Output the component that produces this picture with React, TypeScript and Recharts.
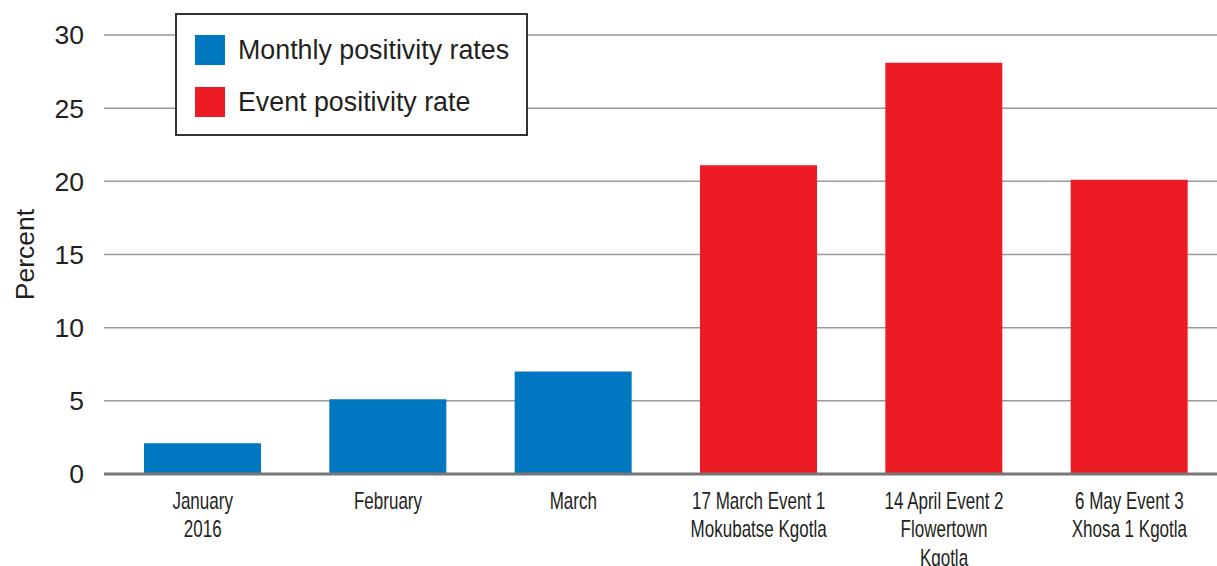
import {
  Bar,
  BarChart,
  CartesianGrid,
  Legend,
  ReferenceLine,
  XAxis,
  YAxis,
} from "recharts";

const categories = [
  "January\n2016",
  "February",
  "March",
  "17 March Event 1\nMokubatse Kgotla",
  "14 April Event 2\nFlowertown\nKgotla",
  "6 May Event 3\nXhosa 1 Kgotla",
];
const monthlyRates = [2.1, 5.1, 7.0, null, null, null];
const eventRates = [null, null, null, 21.1, 28.1, 20.1];
const yTicks = [0, 5, 10, 15, 20, 25, 30];

const BLUE = "#0077c1";
const RED = "#ed1c24";
const TEXT = "#231f20";
const SANS = "'Liberation Sans', Arial, Helvetica, sans-serif";

const data = categories.map((name, i) => ({
  name,
  monthly: monthlyRates[i],
  event: eventRates[i],
}));

const legendItems = [
  { label: "Monthly positivity rates", color: BLUE },
  { label: "Event positivity rate", color: RED },
];

// condensed look: regular sans squeezed horizontally
function CategoryTick(props: any) {
  const { x, y, payload } = props;
  const lines = String(payload.value).split("\n");
  return (
    <g transform={`translate(${x}, ${y + 27})`}>
      <text
        x={0}
        y={0}
        transform="scale(0.74, 1)"
        textAnchor="middle"
        fill={TEXT}
        fontFamily={SANS}
        fontSize={23}
      >
        {lines.map((line, i) => (
          <tspan key={i} x={0} dy={i === 0 ? 0 : 28.5}>
            {line}
          </tspan>
        ))}
      </text>
    </g>
  );
}

function LegendBox() {
  return (
    <div
      style={{
        boxSizing: "border-box",
        width: 353,
        height: 123,
        border: "2px solid #333",
        background: "#fff",
        padding: "20px 0 0 18px",
        fontFamily: SANS,
        fontSize: 26.8,
        color: TEXT,
      }}
    >
      {legendItems.map((item) => (
        <div
          key={item.label}
          style={{ display: "flex", alignItems: "center", height: 30, marginBottom: 22 }}
        >
          <span
            style={{ width: 30, height: 30, background: item.color, marginRight: 13, flexShrink: 0 }}
          />
          <span style={{ whiteSpace: "nowrap" }}>{item.label}</span>
        </div>
      ))}
    </div>
  );
}

function PercentLabel(props: any) {
  const { viewBox } = props;
  const cx = viewBox.x + 25;
  const cy = viewBox.y + viewBox.height / 2;
  return (
    <text
      x={cx}
      y={cy}
      transform={`rotate(-90, ${cx}, ${cy})`}
      textAnchor="middle"
      dominantBaseline="central"
      fill={TEXT}
      fontFamily={SANS}
      fontSize={26.5}
    >
      Percent
    </text>
  );
}

export default function App() {
  return (
    <div
      style={{
        position: "absolute",
        left: 0,
        top: 0,
        width: 1217,
        height: 566,
        overflow: "hidden",
        background: "#fff",
      }}
    >
      <BarChart
        width={1224}
        height={566}
        data={data}
        margin={{ top: 35, right: 2, left: 0, bottom: 0 }}
      >
        <CartesianGrid vertical={false} stroke="#9a9a9a" strokeWidth={1.5} />
        <XAxis
          dataKey="name"
          height={92}
          padding={{ left: 6, right: 0 }}
          axisLine={false}
          tickLine={false}
          interval={0}
          tick={<CategoryTick />}
        />
        <YAxis
          width={104}
          domain={[0, 30]}
          ticks={yTicks}
          axisLine={false}
          tickLine={false}
          tickMargin={14}
          tick={{ fill: TEXT, fontFamily: SANS, fontSize: 26.5 }}
          label={<PercentLabel />}
        />
        <Legend
          layout="vertical"
          align="center"
          verticalAlign="middle"
          wrapperStyle={{ left: 175, top: 13, width: 353, height: 123 }}
          content={<LegendBox />}
        />
        <Bar
          dataKey="monthly"
          stackId="a"
          fill={BLUE}
          barSize={117}
          isAnimationActive={false}
        />
        <Bar
          dataKey="event"
          stackId="a"
          fill={RED}
          barSize={117}
          isAnimationActive={false}
        />
        <ReferenceLine y={0} stroke="#777" strokeWidth={3} />
      </BarChart>
    </div>
  );
}
